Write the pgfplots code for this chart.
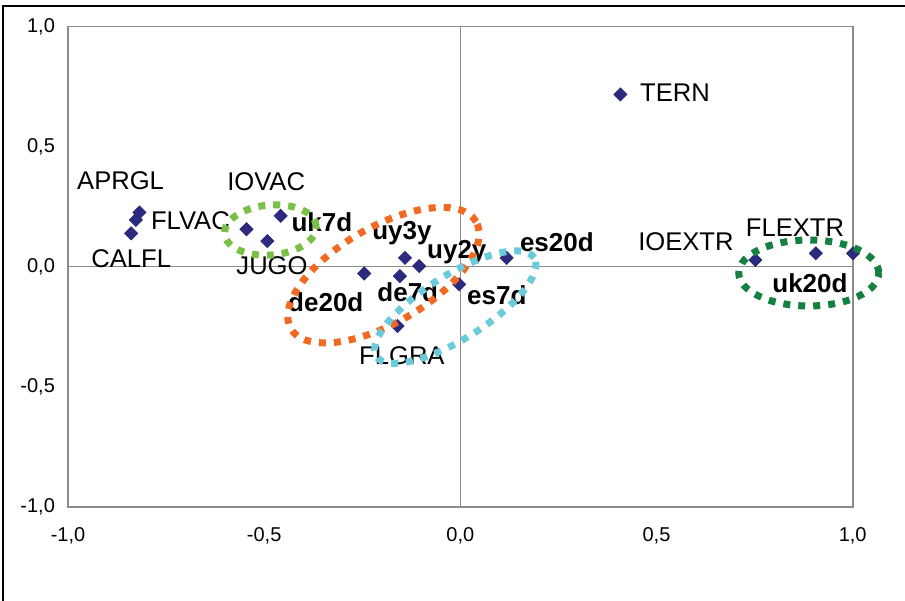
\documentclass[border=0pt]{standalone}
\usepackage{fontspec}
\setmainfont{Liberation Sans}
\usepackage{pgfplots}
\pgfplotsset{compat=1.18}
\definecolor{navy}{HTML}{2B2A7C}
\definecolor{lgreen}{HTML}{78C046}
\definecolor{dgreen}{HTML}{15803F}
\definecolor{orng}{HTML}{F26A22}
\definecolor{lblue}{HTML}{6CCBDA}
\definecolor{axgray}{HTML}{8C8C8C}
\pgfplotstableread{
x y
-0.818 0.226
-0.827 0.195
-0.839 0.139
-0.545 0.156
-0.492 0.107
-0.458 0.212
-0.141 0.037
-0.105 0.003
-0.245 -0.028
-0.154 -0.039
-0.003 -0.073
0.118 0.037
-0.160 -0.247
0.408 0.717
0.752 0.028
0.906 0.056
1.001 0.056
}\pts
\begin{document}
\begin{tikzpicture}
\useasboundingbox (-34pt,-46.5pt) rectangle (418.5pt,253.5pt);
\draw[line width=0.7pt] (-32.5pt,-47pt) -- (-32.5pt,250.5pt) -- (419pt,250.5pt);
\begin{axis}[
  at={(0,0)}, anchor=south west, scale only axis,
  width=392.35pt, height=240.25pt,
  xmin=-1, xmax=1, ymin=-1, ymax=1,
  axis line style={draw=axgray, line width=0.8pt},
  xtick={-1,-0.5,0,0.5,1}, ytick={-1,-0.5,0,0.5,1},
  xticklabels={{-1,0},{-0,5},{0,0},{0,5},{1,0}},
  yticklabels={{-1,0},{-0,5},{0,0},{0,5},{1,0}},
  major tick length=0pt, tick style={draw=none},
  ticklabel style={font=\fontsize{10}{12}\selectfont},
  xticklabel style={yshift=-6.5pt},
  yticklabel style={xshift=-3pt},
  clip=false,
]
\draw[axgray, line width=0.6pt] (axis cs:-1,0) -- (axis cs:1,0);
\draw[axgray, line width=0.6pt] (axis cs:0,-1) -- (axis cs:0,1);
\addplot[only marks, mark=square*, mark size=2.3pt, mark options={rotate=45}, color=navy] table[x=x,y=y] {\pts};
\begin{scope}[every node/.style={font=\fontsize{12.8}{14}\selectfont, inner sep=0pt}]
\node at (axis cs:-0.866, 0.357) {APRGL};
\node at (axis cs:-0.688, 0.190) {FLVAC};
\node at (axis cs:-0.839, 0.032) {CALFL};
\node at (axis cs:-0.495, 0.353) {IOVAC};
\node at (axis cs:-0.480, 0.003) {JUGO};
\node at (axis cs:-0.149,-0.372) {FLGRA};
\node at (axis cs:0.547, 0.723) {TERN};
\node at (axis cs:0.575, 0.103) {IOEXTR};
\node at (axis cs:0.853, 0.161) {FLEXTR};
\end{scope}
\begin{scope}[every node/.style={font=\fontsize{13}{14}\selectfont\bfseries, inner sep=0pt}]
\node at (axis cs:-0.353, 0.186) {uk7d};
\node at (axis cs:-0.149, 0.140) {uy3y};
\node at (axis cs:-0.009, 0.061) {uy2y};
\node at (axis cs:0.246, 0.103) {es20d};
\node at (axis cs:-0.343,-0.147) {de20d};
\node at (axis cs:-0.134,-0.105) {de7d};
\node at (axis cs:0.093,-0.118) {es7d};
\node at (axis cs:0.891,-0.068) {uk20d};
\end{scope}
\coordinate (e1) at (axis cs:-0.484,0.153);
\coordinate (e2) at (axis cs:-0.196,-0.035);
\coordinate (e3) at (axis cs:-0.013,-0.168);
\coordinate (e4) at (axis cs:0.888,-0.026);
\end{axis}
\begin{scope}[line width=3.5pt, dash pattern=on 3.5pt off 4pt]
\draw[lgreen] (e1) ellipse [x radius=23pt, y radius=12.5pt, rotate=5];
\draw[orng] (e2) ellipse [x radius=53.5pt, y radius=24pt, rotate=30];
\draw[lblue] (e3) ellipse [x radius=46.5pt, y radius=16pt, rotate=32];
\draw[dgreen] (e4) ellipse [x radius=35pt, y radius=16.5pt];
\end{scope}
\end{tikzpicture}
\end{document}
